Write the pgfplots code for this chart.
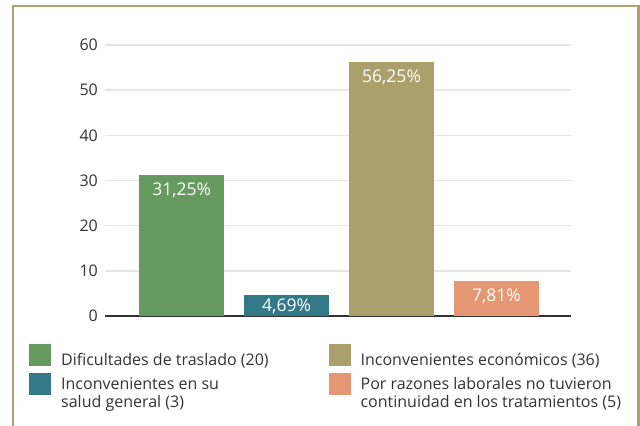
\documentclass[border=0pt]{standalone}
\usepackage{fontspec}
\setmainfont{Open Sans}
\usepackage{pgfplots}
\pgfplotsset{compat=1.18}
\definecolor{cgreen}{HTML}{659B5E}
\definecolor{cteal}{HTML}{337987}
\definecolor{colive}{HTML}{ABA06B}
\definecolor{csalmon}{HTML}{E59673}
\definecolor{cframe}{HTML}{ABA374}
\definecolor{ctext}{HTML}{333333}
\definecolor{cgrid}{HTML}{E6E6E6}
\newcommand{\lfont}{\fontsize{16bp}{18bp}\selectfont}
\newcommand{\bfont}{\fontsize{17.5bp}{20bp}\selectfont}
\begin{document}
\begin{tikzpicture}[x=1bp,y=1bp]
\useasboundingbox (0,0) rectangle (640,425);
\begin{axis}[
  at={(105bp,109bp)}, anchor=south west,
  scale only axis, width=466bp, height=271bp,
  xmin=-0.73, xmax=3.71, ymin=0, ymax=60,
  ytick={10,20,...,60},
  extra y ticks={0},
  extra y tick style={grid style={ctext, line width=2bp}},
  xtick=\empty,
  axis line style={draw=none},
  ymajorgrids,
  grid style={cgrid, line width=1.5bp},
  major tick length=0pt,
  /pgf/number format/assume math mode=true,
  yticklabel style={font=\lfont, text=ctext, inner sep=0pt, anchor=east, xshift=-7bp},
  every axis plot/.append style={ybar, bar width=85bp, bar shift=0pt, draw=none},
  every node near coord/.append style={anchor=north, text=white, font=\bfont, inner sep=0pt, yshift=-8bp},
  legend columns=2,
  legend style={draw=none, fill=none, at={(-0.1631,-0.1033)}, anchor=north west, inner sep=0pt,
    font=\lfont, text=ctext, row sep=4bp,
    cells={inner sep=0pt},
    /tikz/every odd column/.append style={column sep=8bp},
    /tikz/every even column/.append style={column sep=58bp},
  },
  legend cell align=left,
  legend image code/.code={\fill[#1] (0bp,-6bp) rectangle (22bp,16bp);},
]
\addplot[fill=cgreen, nodes near coords={31,25\%}] coordinates {(0,31.25)};
\addlegendentry{Dificultades de traslado (20)}
\addplot[fill=colive, nodes near coords={56,25\%}] coordinates {(2,56.25)};
\addlegendentry{Inconvenientes económicos (36)}
\addplot[fill=cteal, nodes near coords={4,69\%}, every node near coord/.append style={yshift=4bp}] coordinates {(1,4.69)};
\addlegendentry{\begin{tabular}{@{}l@{}}Inconvenientes en su\\salud general (3)\end{tabular}}
\addplot[fill=csalmon, nodes near coords={7,81\%}] coordinates {(3,7.81)};
\addlegendentry{\begin{tabular}{@{}l@{}}Por razones laborales no tuvieron\\continuidad en los tratamientos (5)\end{tabular}}
\end{axis}
\draw[cframe, line width=2.5bp] (12.8,-5) -- (12.8,419) -- (638.5,419) -- (638.5,-5);
\end{tikzpicture}
\end{document}
